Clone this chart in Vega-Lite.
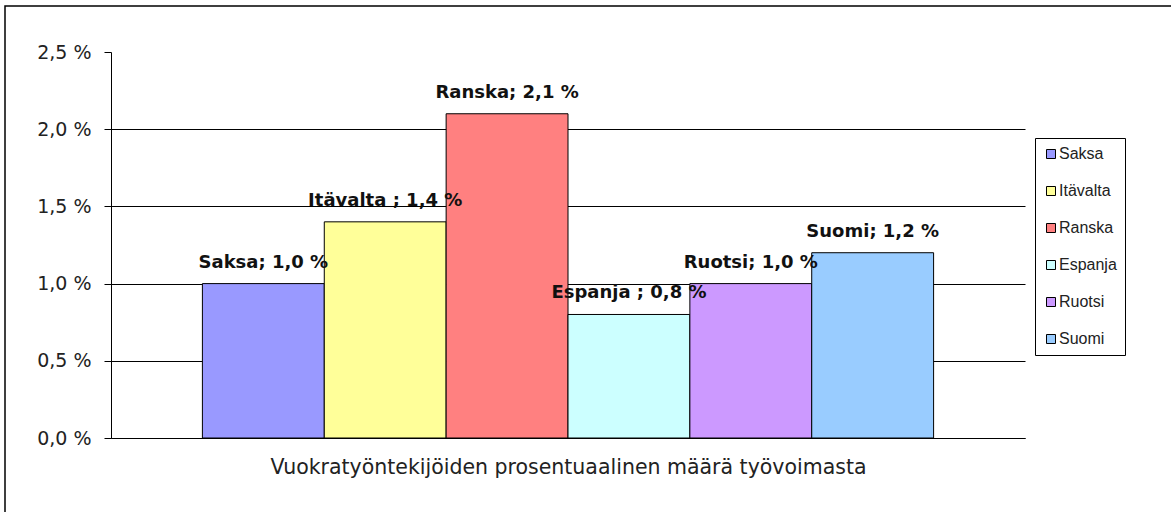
{
  "$schema": "https://vega.github.io/schema/vega-lite/v6.json",
  "width": 1168,
  "height": 508,
  "autosize": {"type": "none"},
  "padding": {"left": 5, "top": 6, "right": 0, "bottom": 0},
  "background": "white",
  "config": {"view": {"stroke": "black", "strokeWidth": 1.5}, "font": "DejaVu Sans"},
  "data": {
    "values": [
      {"country": "Saksa", "value": 1.0, "label": "Saksa; 1,0 %"},
      {"country": "Itävalta", "value": 1.4, "label": "Itävalta ; 1,4 %"},
      {"country": "Ranska", "value": 2.1, "label": "Ranska; 2,1 %"},
      {"country": "Espanja", "value": 0.8, "label": "Espanja ; 0,8 %"},
      {"country": "Ruotsi", "value": 1.0, "label": "Ruotsi; 1,0 %"},
      {"country": "Suomi", "value": 1.2, "label": "Suomi; 1,2 %"}
    ]
  },
  "encoding": {
    "x": {
      "field": "country",
      "type": "nominal",
      "sort": null,
      "scale": {"range": [106, 1020], "paddingInner": 0, "paddingOuter": 0.75},
      "axis": {
        "orient": "bottom",
        "offset": -76,
        "labels": false,
        "ticks": false,
        "grid": false,
        "domainColor": "black",
        "domainWidth": 1,
        "title": "Vuokratyöntekijöiden prosentuaalinen määrä työvoimasta",
        "titleFont": "DejaVu Sans",
        "titleFontSize": 20.5,
        "titleFontWeight": "normal",
        "titleColor": "#222222",
        "titlePadding": 19
      }
    },
    "y": {
      "field": "value",
      "type": "quantitative",
      "scale": {"domain": [0, 2.5], "range": [432, 46], "nice": false, "zero": true},
      "axis": {
        "orient": "left",
        "offset": -106,
        "values": [0, 0.5, 1, 1.5, 2, 2.5],
        "grid": true,
        "gridColor": {"condition": {"test": "datum.value >= 2.5", "value": "transparent"}, "value": "black"},
        "gridWidth": 1,
        "domainColor": "black",
        "domainWidth": 1,
        "tickColor": "black",
        "tickSize": 7,
        "labelPadding": 13,
        "labelFont": "DejaVu Sans",
        "labelFontSize": 19,
        "labelColor": "#222222",
        "labelExpr": "replace(format(datum.value, '.1f'), '.', ',') + ' %'",
        "title": null
      }
    }
  },
  "layer": [
    {
      "mark": {"type": "bar", "stroke": "black", "strokeWidth": 1},
      "encoding": {
        "color": {
          "field": "country",
          "type": "nominal",
          "scale": {
            "domain": ["Saksa", "Itävalta", "Ranska", "Espanja", "Ruotsi", "Suomi"],
            "range": ["#9999FF", "#FFFF99", "#FF8080", "#CCFFFF", "#CC99FF", "#99CCFF"]
          },
          "legend": {
            "orient": "none",
            "legendX": 1030,
            "legendY": 132,
            "title": null,
            "symbolType": "square",
            "symbolSize": 81,
            "symbolStrokeColor": "black",
            "symbolStrokeWidth": 1,
            "symbolOpacity": 1,
            "labelFont": "Liberation Sans",
            "labelFontSize": 16,
            "labelColor": "#222222",
            "labelOffset": 0,
            "rowPadding": 21,
            "padding": 8,
            "strokeColor": "black",
            "fillColor": "white"
          }
        }
      }
    },
    {
      "mark": {
        "type": "text",
        "font": "DejaVu Sans",
        "fontWeight": "bold",
        "fontSize": 18,
        "baseline": "alphabetic",
        "dy": -16,
        "color": "#111111"
      },
      "encoding": {"text": {"field": "label"}}
    }
  ]
}
